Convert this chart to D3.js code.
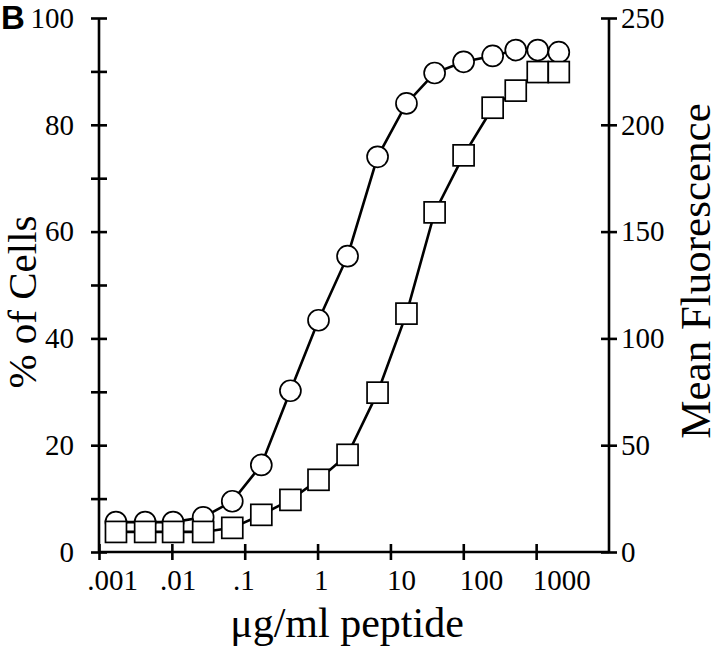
<!DOCTYPE html>
<html>
<head>
<meta charset="utf-8">
<script src="https://cdn.jsdelivr.net/npm/d3@7"></script>
<style>
  html, body { margin: 0; padding: 0; background: #fff; }
  svg { display: block; }
  svg text { font-family: "Liberation Serif", "Times New Roman", serif; fill: #000; }
</style>
</head>
<body>
<svg id="chart" width="720" height="653"></svg>
<script>
// ---- Data ----
const concentrations = [0.00171, 0.0043, 0.0104, 0.0269, 0.0675, 0.169, 0.424, 1.03, 2.58, 6.66, 16.6, 40.4, 101, 253, 525, 1052, 2046];
const percentCells   = [5.6, 5.6, 5.6, 6.5, 9.5, 16.3, 30.2, 43.4, 55.4, 74, 84, 89.7, 91.8, 92.9, 94, 94, 93.6];
const meanFluor      = [9.4, 9.4, 9.4, 9.4, 11.3, 17.4, 24.4, 33.8, 45.5, 74.6, 111.6, 159, 185.7, 208, 216, 224.7, 224.7];
const xTicks       = [0.001, 0.01, 0.1, 1, 10, 100, 1000];
const xTickLabels  = [".001", ".01", ".1", "1", "10", "100", "1000"];
const leftTicks    = [0, 20, 40, 60, 80, 100];
const leftMinor    = [10, 30, 50, 70, 90];
const rightTicks   = [0, 50, 100, 150, 200, 250];

const SERIF = "'Liberation Serif', 'Times New Roman', serif";
const svg = d3.select("#chart");
const L = 99, R = 609, T = 18, B = 552;

const x = d3.scaleLog().domain([0.001, 10000]).range([L, R]);
const yL = d3.scaleLinear().domain([0, 100]).range([B, T]);
const yR = d3.scaleLinear().domain([0, 250]).range([B, T]);

const axisW = 2.6, tk = 8;

// Left axis
const gL = svg.append("g").attr("transform", `translate(${L},0)`)
  .call(d3.axisLeft(yL).tickValues(leftTicks).tickSize(tk).tickPadding(17).tickFormat(d3.format("d")));
gL.selectAll(".tick line").attr("x1", -tk).attr("x2", tk);
const gLm = svg.append("g").attr("transform", `translate(${L},0)`)
  .call(d3.axisLeft(yL).tickValues(leftMinor).tickSize(tk).tickFormat(""));
gLm.select(".domain").remove();
gLm.selectAll(".tick line").attr("x1", -tk).attr("x2", tk);

// Right axis
const gR = svg.append("g").attr("transform", `translate(${R},0)`)
  .call(d3.axisRight(yR).tickValues(rightTicks).tickSize(tk).tickPadding(4).tickFormat(d3.format("d")));
gR.selectAll(".tick line").attr("x1", -tk).attr("x2", tk);

// Bottom axis
const gB = svg.append("g").attr("transform", `translate(0,${B})`)
  .call(d3.axisBottom(x).tickValues(xTicks).tickSize(tk).tickPadding(0)
    .tickFormat((d, i) => xTickLabels[i]));
gB.selectAll(".tick line").attr("y1", -tk).attr("y2", tk);

[gL, gLm, gR, gB].forEach(g => {
  g.attr("font-family", null).attr("font-size", null);
  g.selectAll(".domain").attr("stroke", "#000").attr("stroke-width", axisW);
  g.selectAll(".tick line").attr("stroke", "#000").attr("stroke-width", axisW);
  g.selectAll(".tick text").style("font-family", SERIF).style("font-size", "29px").style("fill", "#000");
});
gB.selectAll(".domain").attr("d", `M${L},0H${R}`);
gL.selectAll(".domain").attr("d", `M0,${T}V${B}`);
gR.selectAll(".domain").attr("d", `M0,${T}V${B}`);

// x tick labels: first digit sits at the tick, leading period hangs left
gB.selectAll(".tick text").each(function() {
  const t = d3.select(this);
  t.attr("text-anchor", "start").attr("dy", null).attr("y", 38);
  let dx = -4;
  const s = t.text();
  if (s.startsWith(".")) {
    const tmp = svg.append("text").style("font-size", "29px").style("font-family", SERIF).text(".");
    dx -= tmp.node().getComputedTextLength() + 1;
    tmp.remove();
  }
  t.attr("x", dx);
});

// Lines and markers
const pts = (vals, ys) => concentrations.map((c, i) => [x(c), ys(vals[i])]);
const line = d3.line();

const circlePts = pts(percentCells, yL);
const squarePts = pts(meanFluor, yR);

svg.append("path").attr("d", line(circlePts)).attr("fill", "none")
  .attr("stroke", "#000").attr("stroke-width", 2.6);
svg.append("g").selectAll("circle").data(circlePts).join("circle")
  .attr("cx", d => d[0]).attr("cy", d => d[1]).attr("r", 10.5)
  .attr("fill", "#fff").attr("stroke", "#000").attr("stroke-width", 1.7);

svg.append("path").attr("d", line(squarePts)).attr("fill", "none")
  .attr("stroke", "#000").attr("stroke-width", 2.6);
const sq = 21;
svg.append("g").selectAll("rect").data(squarePts).join("rect")
  .attr("x", d => d[0] - sq / 2).attr("y", d => d[1] - sq / 2)
  .attr("width", sq).attr("height", sq)
  .attr("fill", "#fff").attr("stroke", "#000").attr("stroke-width", 1.7);

// Titles
svg.append("text").attr("x", (L + R) / 2 - 7).attr("y", 637)
  .attr("text-anchor", "middle").style("font-size", "42px").text("μg/ml peptide");
svg.append("text").attr("transform", "translate(36,302) rotate(-90)")
  .attr("text-anchor", "middle").style("font-size", "41px").text("% of Cells");
svg.append("text").attr("transform", "translate(710,271) rotate(-90)")
  .attr("text-anchor", "middle").style("font-size", "43px").text("Mean Fluorescence");

// Panel letter
svg.append("text").attr("x", 1).attr("y", 29)
  .style("font-family", "'Liberation Sans', Arial, sans-serif")
  .style("font-weight", "bold").style("font-size", "33px").text("B");
</script>
</body>
</html>
